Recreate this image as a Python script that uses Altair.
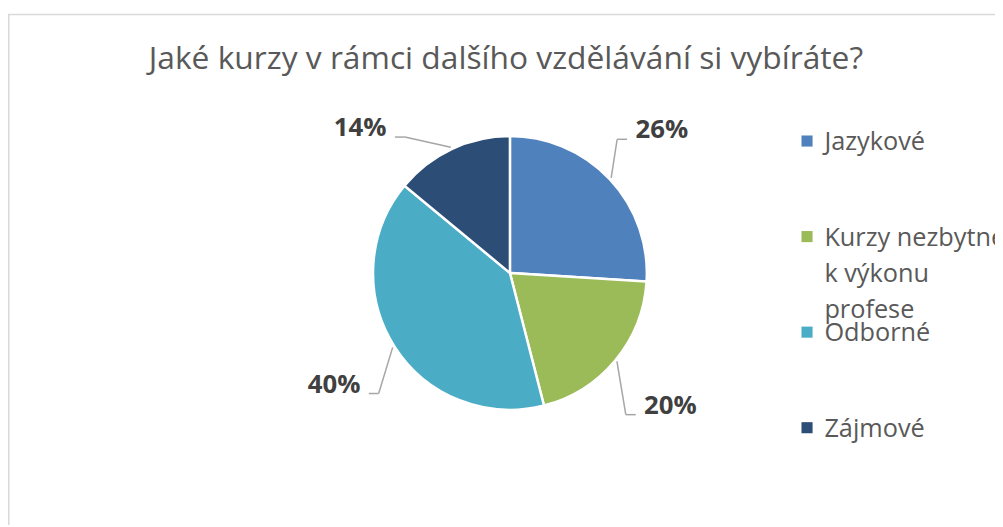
import altair as alt
import pandas as pd

# ---- data ----
categories = ["Jazykové", "Kurzy nezbytné k výkonu profese", "Odborné", "Zájmové"]
shares = [26, 20, 40, 14]
label_texts = ["26%", "20%", "40%", "14%"]
legend_text = ["Jazykové", "Kurzy nezbytné\nk výkonu\nprofese", "Odborné", "Zájmové"]
title_text = ["Jaké kurzy v rámci dalšího vzdělávání si vybíráte?"]

# ---- style / layout ----
colors = ["#4F81BD", "#9BBB59", "#4BACC6", "#2C4D75"]
FONT = "Open Sans"
CX, CY, R = 506, 265, 138
LABEL_R = 210          # radius of the label circle
LABEL_TOP = 119        # labels are kept below this line (plot area top)
HALF_W = 28            # half width of a percentage label
TAIL = 10              # horizontal tail of a leader line

df = pd.DataFrame({"cat": categories, "share": shares, "label": label_texts,
                   "idx": list(range(len(categories)))})
legend_df = pd.DataFrame({"cat": categories, "text": legend_text})
title_df = pd.DataFrame({"t": title_text})

color = alt.Color("cat:N", scale=alt.Scale(domain=categories, range=colors), legend=None)
theta = alt.Theta("share:Q", stack=True)
order = alt.Order("idx:Q")

base = alt.Chart(df)

arcs = base.mark_arc(outerRadius=R, stroke="white", strokeWidth=2.5).encode(
    theta=theta, color=color, order=order,
    x=alt.value(CX), y=alt.value(CY),
)

# label geometry derived from the cumulative shares
geo = base.transform_window(
    cum="sum(share)", sort=[alt.SortField("idx")], frame=[None, 0]
).transform_joinaggregate(total="sum(share)").transform_calculate(
    mid="(datum.cum - datum.share / 2) / datum.total * 2 * PI",
    side="sin(datum.mid) >= 0 ? 1 : -1",
    rawdy=f"-{LABEL_R} * cos(datum.mid)",
    dyc=f"max(datum.rawdy, {LABEL_TOP} - {CY})",
    tx=f"{CX} + datum.side * sqrt({LABEL_R}*{LABEL_R} - datum.dyc*datum.dyc)",
    ty=f"{CY} + datum.dyc",
    ex=f"datum.tx - datum.side * ({HALF_W} + 7)",
    ey="datum.ty + 9",
    bx=f"datum.ex - datum.side * {TAIL}",
    px=f"{CX} + {R + 2} * sin(datum.mid)",
    py=f"{CY} - {R + 2} * cos(datum.mid)",
)

lead1 = geo.mark_rule(color="#A6A6A6", strokeWidth=1.5).encode(
    x=alt.X("px:Q", scale=None), y=alt.Y("py:Q", scale=None),
    x2="bx:Q", y2="ey:Q",
)
lead2 = geo.mark_rule(color="#A6A6A6", strokeWidth=1.5).encode(
    x=alt.X("bx:Q", scale=None), y=alt.Y("ey:Q", scale=None),
    x2="ex:Q", y2="ey:Q",
)
labels = geo.mark_text(fontSize=26, fontWeight="bold", color="#404040",
                       font=FONT, baseline="middle", align="center").encode(
    x=alt.X("tx:Q", scale=None), y=alt.Y("ty:Q", scale=None), text="label:N",
)

leg_y = alt.Y("cat:N", scale=alt.Scale(type="point", domain=categories,
                                        range=[132, 421], padding=0), axis=None)
leg_sq = alt.Chart(legend_df).mark_square(size=125, opacity=1).encode(
    x=alt.value(805.5), y=leg_y, color=color,
)
leg_txt = alt.Chart(legend_df).mark_text(
    align="left", baseline="alphabetic", dy=9, fontSize=25.5, font=FONT,
    color="#595959", lineBreak="\n", lineHeight=36.5,
).encode(x=alt.value(823), y=leg_y, text="text:N")

title = alt.Chart(title_df).mark_text(
    align="center", baseline="alphabetic", fontSize=32, font=FONT, color="#595959",
).encode(x=alt.value(502), y=alt.value(59), text="t:N")

border_top = alt.Chart(title_df).mark_rule(color="#D9D9D9", strokeWidth=1.5).encode(
    x=alt.value(0), x2=alt.value(995), y=alt.value(4.5))
border_left = alt.Chart(title_df).mark_rule(color="#D9D9D9", strokeWidth=2).encode(
    x=alt.value(0.5), y=alt.value(4.5), y2=alt.value(519))

chart = alt.layer(
    border_top, border_left, arcs, lead1, lead2, labels, leg_sq, leg_txt, title
).resolve_scale(y="independent", x="independent").properties(
    width=995, height=519,
    autosize=alt.AutoSizeParams(type="none"),
    padding=0,
).configure(background="white").configure_view(strokeWidth=0)

chart.save("out.html", embed_options={"renderer": "svg", "actions": False})
